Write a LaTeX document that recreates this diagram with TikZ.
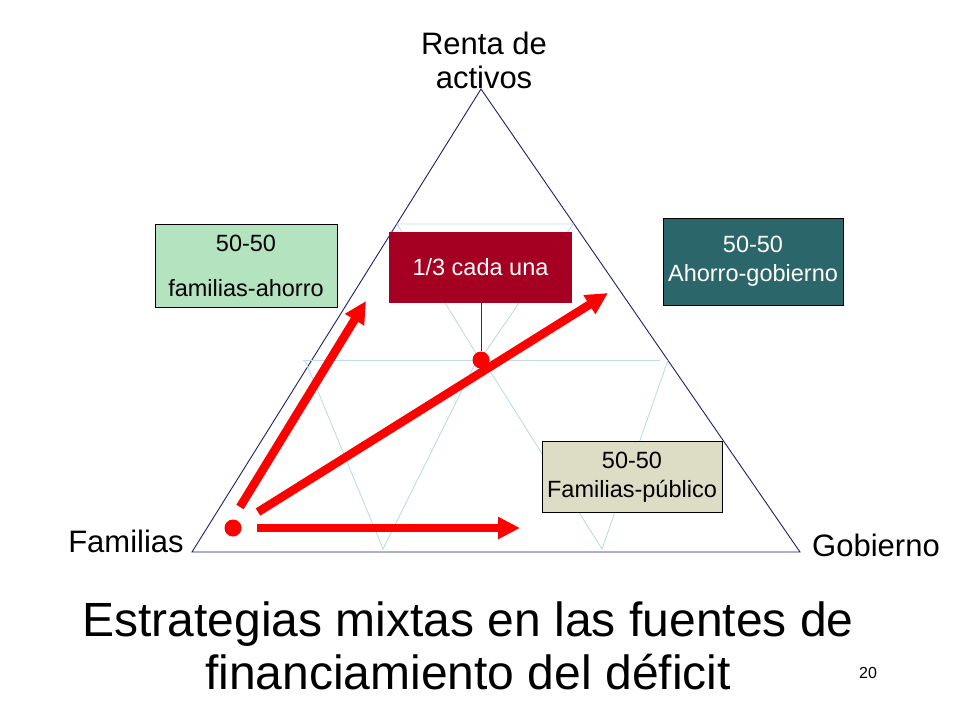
\documentclass[tikz,border=0pt]{standalone}
\usepackage{fontspec}
\setmainfont{Liberation Sans}
\usepackage{xcolor}
\usetikzlibrary{arrows.meta, positioning}
\definecolor{ejes}{RGB}{30,30,110}
\definecolor{rejilla}{RGB}{190,220,232}
\definecolor{verdeclaro}{RGB}{179,227,191}
\definecolor{granate}{RGB}{165,0,33}
\definecolor{verdeazul}{RGB}{43,102,106}
\definecolor{beige}{RGB}{221,221,197}
\definecolor{rojo}{RGB}{255,0,0}

\begin{document}
\begin{tikzpicture}[x=1pt, y=-1pt,
  caja/.style={draw=black, line width=0.8pt, rectangle, align=center, inner sep=0pt, font=\fontsize{23.5}{29}\selectfont},
  vertice/.style={align=center, font=\fontsize{31}{34}\selectfont},
  flecha/.style={draw=rojo, line width=8.5pt, -{Triangle[length=22pt, width=21pt]}},
  punto/.style={circle, fill=rojo, inner sep=0pt, minimum size=17pt}]
\useasboundingbox (0,0) rectangle (960,720);
% vertices of the triangle
\coordinate (top) at (481,89);
\coordinate (fam) at (192,552);
\coordinate (gob) at (800,552);
\draw[ejes, line width=0.9pt] (top) -- (fam) -- (gob) -- cycle;
% light grid
\begin{scope}[rejilla, line width=0.9pt]
\draw (397,224) -- (573,224) -- (480,360) -- cycle;
\draw (305,360) -- (383,549) -- (477,360);
\draw (483,360) -- (602,549) -- (668,360);
\draw (303,360) -- (660,360);
\end{scope}
\node[vertice] (renta) at (484,60) {Renta de\\activos};
\node[vertice] (familias) at (126,541) {Familias};
\node[vertice] (gobierno) at (876,545) {Gobierno};
\node[caja, fill=verdeclaro, minimum width=182pt, minimum height=83pt] (famahorro) at (246,265.5) {50-50\\[16pt]familias-ahorro};
\node[caja, draw=none, fill=granate, text=white, minimum width=183pt, minimum height=71pt] (cada) at (480.5,267.5) {1/3 cada una};
\node[caja, fill=verdeazul, text=white, minimum width=180pt, minimum height=87pt] (ahorrogob) at (753,261.5) {50-50\\Ahorro-gobierno};
\node[caja, fill=beige, minimum width=180pt, minimum height=71pt] (fampub) at (632,477) {50-50\\Familias-público};
\node[punto] (centro) at (481,360) {};
\node[punto] (origen) at (233,528) {};
\draw[granate, line width=0.9pt] (centro.north) -- (centro.north |- cada.south);
% arrows from the Familias corner
\coordinate (fa0) at (240,507); \coordinate (fa1) at (366,301);
\coordinate (fg0) at (258,512); \coordinate (fg1) at (608,293);
\coordinate (fp0) at (257,528); \coordinate (fp1) at (520,528);
\draw[flecha] (fa0) -- (fa1);
\draw[flecha] (fg0) -- (fg1);
\draw[flecha] (fp0) -- (fp1);
\node[align=center, font=\fontsize{48}{53}\selectfont] (titulo) at (468,646) {Estrategias mixtas en las fuentes de\\financiamiento del déficit};
\node[font=\fontsize{16}{19}\selectfont] (pagina) at (868,673) {20};
\end{tikzpicture}
\end{document}
